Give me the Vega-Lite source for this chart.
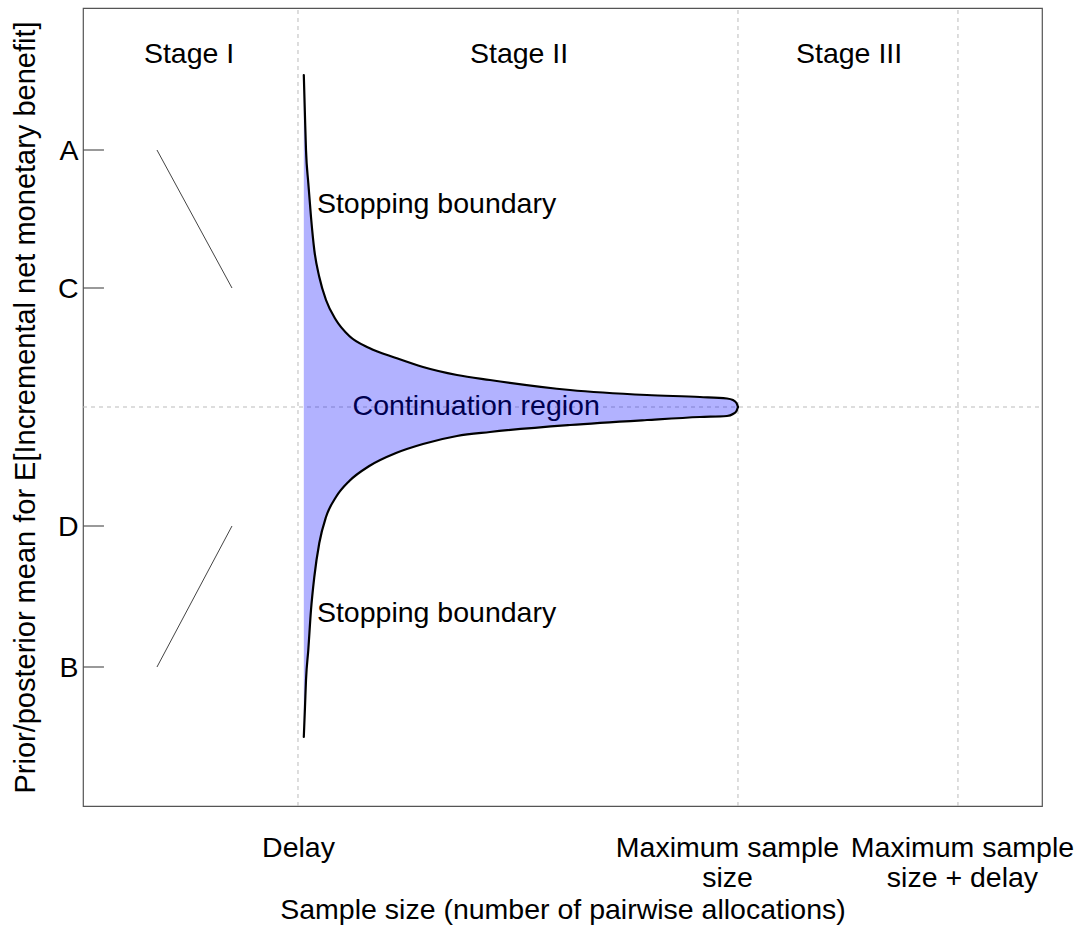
{
  "$schema": "https://vega.github.io/schema/vega-lite/v6.json",
  "width": 959,
  "height": 798,
  "autosize": "none",
  "padding": {"left": 83, "top": 8, "right": 38, "bottom": 142},
  "config": {
    "font": "Liberation Sans",
    "view": {"stroke": "#555555", "strokeWidth": 1.2},
    "axis": {
      "grid": false,
      "domain": false,
      "ticks": false,
      "labelFont": "Liberation Sans",
      "labelFontSize": 28.5,
      "labelColor": "#000000",
      "labelLimit": 0,
      "titleFont": "Liberation Sans",
      "titleFontSize": 28.5,
      "titleFontWeight": "normal",
      "titleColor": "#000000"
    }
  },
  "datasets": {
    "vlines": [
      {"x": 100, "y": -399, "y2": 399},
      {"x": 300, "y": -399, "y2": 399},
      {"x": 400, "y": -399, "y2": 399}
    ],
    "hline": [{"x": 2.27, "x2": 438.2, "y": 0}],
    "stage1": [
      {"x": 35.9, "y": 257, "seg": "up"},
      {"x": 70, "y": 119, "seg": "up"},
      {"x": 35.9, "y": -260, "seg": "down"},
      {"x": 70, "y": -119, "seg": "down"}
    ],
    "ticks": [
      {"x": 2.27, "x2": 11.8, "y": 257},
      {"x": 2.27, "x2": 11.8, "y": 119},
      {"x": 2.27, "x2": 11.8, "y": -119},
      {"x": 2.27, "x2": 11.8, "y": -260}
    ],
    "stages": [
      {"x": 50.5, "y": 344, "text": "Stage I"},
      {"x": 200.5, "y": 344, "text": "Stage II"},
      {"x": 350.5, "y": 344, "text": "Stage III"}
    ],
    "stopping": [
      {"x": 108.6, "y": 194, "text": "Stopping boundary"},
      {"x": 108.6, "y": -215, "text": "Stopping boundary"}
    ],
    "continuation": [{"x": 181, "y": -8, "text": "Continuation region"}],
    "region": [
      {"x": 102.64, "y": 332, "y2": -330},
      {"x": 103.18, "y": 290, "y2": -300},
      {"x": 103.64, "y": 257, "y2": -273},
      {"x": 104.68, "y": 224, "y2": -243},
      {"x": 105.91, "y": 190, "y2": -203},
      {"x": 107.41, "y": 157, "y2": -170},
      {"x": 109.68, "y": 130, "y2": -136},
      {"x": 112.73, "y": 107, "y2": -110},
      {"x": 117.27, "y": 87, "y2": -90},
      {"x": 123.32, "y": 71, "y2": -74},
      {"x": 132.41, "y": 59, "y2": -59},
      {"x": 144.55, "y": 49, "y2": -46},
      {"x": 156.82, "y": 40, "y2": -37},
      {"x": 172.27, "y": 32, "y2": -29},
      {"x": 187.27, "y": 27, "y2": -25},
      {"x": 223.64, "y": 17, "y2": -18},
      {"x": 258.64, "y": 12, "y2": -13},
      {"x": 282.73, "y": 10, "y2": -10},
      {"x": 295, "y": 8.5, "y2": -9},
      {"x": 297.73, "y": 7, "y2": -7},
      {"x": 299.32, "y": 4, "y2": -4},
      {"x": 300, "y": 0, "y2": 0}
    ]
  },
  "encoding": {
    "x": {
      "field": "x",
      "type": "quantitative",
      "scale": {"domain": [2.27, 438.2], "nice": false, "zero": false},
      "axis": {
        "values": [100, 300, 400],
        "labelExpr": "datum.value == 100 ? 'Delay' : (datum.value == 300 ? ['Maximum sample', 'size'] : ['Maximum sample', 'size + delay'])",
        "labelPadding": 27,
        "labelLineHeight": 30,
        "labelOffset": {"condition": [{"test": "datum.value == 300", "value": -11}, {"test": "datum.value == 400", "value": 4}], "value": 0},
        "labelFlush": false,
        "labelOverlap": false,
        "title": "Sample size (number of pairwise allocations)",
        "titlePadding": 4
      }
    },
    "y": {
      "field": "y",
      "type": "quantitative",
      "scale": {"domain": [-399, 399], "nice": false, "zero": false},
      "axis": {
        "values": [257, 119, -119, -260],
        "labelExpr": "datum.value == 257 ? 'A' : (datum.value == 119 ? 'C' : (datum.value == -119 ? 'D' : 'B'))",
        "labelPadding": 5,
        "labelFlush": false,
        "labelOverlap": false,
        "title": "Prior/posterior mean for E[Incremental net monetary benefit]",
        "titleFontSize": 29,
        "titlePadding": 17
      }
    }
  },
  "layer": [
    {
      "data": {"name": "vlines"},
      "mark": {"type": "rule", "color": "#bbbbbb", "strokeWidth": 1, "strokeDash": [4, 4]},
      "encoding": {"y2": {"field": "y2"}}
    },
    {
      "data": {"name": "hline"},
      "mark": {"type": "rule", "color": "#bbbbbb", "strokeWidth": 1, "strokeDash": [4, 4]},
      "encoding": {"x2": {"field": "x2"}}
    },
    {
      "data": {"name": "stage1"},
      "mark": {"type": "line", "color": "#444444", "strokeWidth": 1},
      "encoding": {"detail": {"field": "seg"}}
    },
    {
      "data": {"name": "ticks"},
      "mark": {"type": "rule", "color": "#555555", "strokeWidth": 1.2},
      "encoding": {"x2": {"field": "x2"}}
    },
    {
      "data": {"name": "stages"},
      "mark": {"type": "text", "fontSize": 28.5, "font": "Liberation Sans", "color": "#000000", "align": "center", "baseline": "alphabetic"},
      "encoding": {"text": {"field": "text"}}
    },
    {
      "data": {"name": "stopping"},
      "mark": {"type": "text", "fontSize": 28.5, "font": "Liberation Sans", "color": "#000000", "align": "left", "baseline": "alphabetic"},
      "encoding": {"text": {"field": "text"}}
    },
    {
      "data": {"name": "continuation"},
      "mark": {"type": "text", "fontSize": 28.5, "font": "Liberation Sans", "color": "#000000", "align": "center", "baseline": "alphabetic"},
      "encoding": {"text": {"field": "text"}}
    },
    {
      "data": {"name": "region"},
      "mark": {"type": "area", "color": "#0000ff", "opacity": 0.3, "interpolate": "monotone"},
      "encoding": {"y2": {"field": "y2"}}
    },
    {
      "data": {"name": "region"},
      "transform": [{"fold": ["y", "y2"], "as": ["side", "y"]}],
      "mark": {"type": "line", "color": "#000000", "strokeWidth": 2.2, "interpolate": "monotone", "strokeCap": "round"},
      "encoding": {"detail": {"field": "side"}}
    }
  ]
}
